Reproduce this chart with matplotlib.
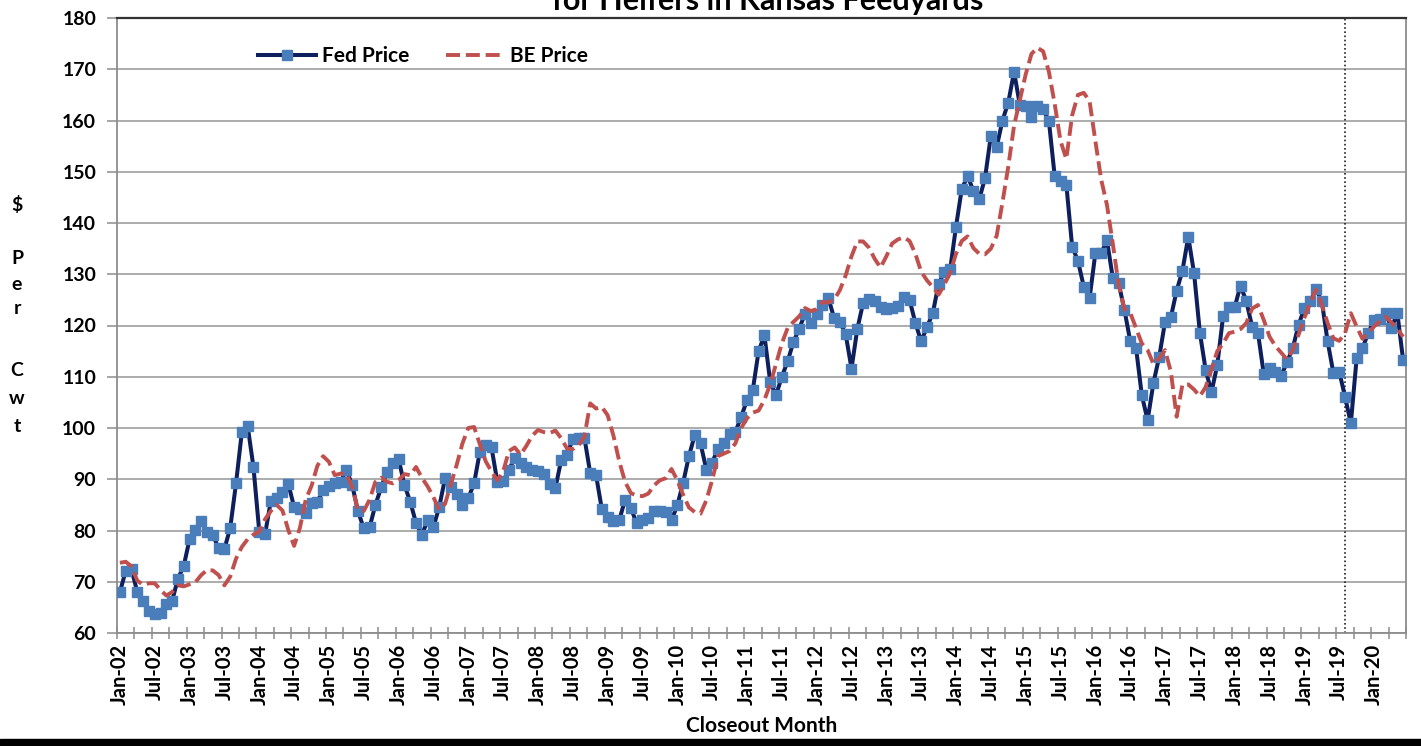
import matplotlib.pyplot as plt
from matplotlib.patches import Rectangle

# monthly closeout values, Jan-02 .. Jun-20 ($ per cwt)
fed_price = [
    68.0, 72.1, 72.4, 68.0, 66.3, 64.3, 63.7, 64.0, 65.6, 66.3, 70.6, 73.1,
    78.3, 80.1, 81.8, 79.8, 79.2, 76.5, 76.4, 80.5, 89.2, 99.2, 100.4, 92.4,
    79.8, 79.3, 85.8, 86.3, 87.6, 89.1, 84.6, 84.2, 83.5, 85.3, 85.6, 87.9,
    88.6, 89.2, 89.5, 91.8, 88.9, 83.8, 80.4, 80.6, 85.0, 88.4, 91.5, 93.1,
    93.9, 88.9, 85.6, 81.5, 79.1, 82.0, 80.7, 84.6, 90.2, 88.5, 87.2, 85.0,
    86.3, 89.2, 95.4, 96.7, 96.2, 89.5, 89.6, 91.8, 94.2, 93.2, 92.4, 91.8,
    91.6, 91.1, 89.1, 88.3, 93.7, 94.7, 97.9, 98.1, 98.1, 91.2, 90.8, 84.2,
    82.6, 81.8, 82.0, 86.0, 84.4, 81.4, 82.0, 82.5, 83.8, 83.8, 83.6, 82.0,
    84.9, 89.3, 94.5, 98.6, 97.0, 91.9, 93.2, 96.0, 97.0, 98.8, 99.2, 102.2,
    105.4, 107.4, 115.0, 118.1, 109.0, 106.4, 110.0, 113.0, 116.8, 119.4, 122.3, 120.4,
    122.3, 124.0, 125.4, 121.5, 120.7, 118.3, 111.6, 119.3, 124.4, 125.2, 124.8, 123.6,
    123.3, 123.5, 123.9, 125.6, 125.0, 120.5, 116.9, 119.7, 122.4, 128.1, 130.5, 131.0,
    139.3, 146.7, 149.1, 146.3, 144.6, 148.8, 157.0, 154.8, 160.0, 163.5, 169.5, 163.0,
    162.8, 160.7, 162.8, 162.2, 159.9, 149.1, 148.2, 147.5, 135.4, 132.6, 127.6, 125.3,
    134.1, 134.1, 136.6, 129.3, 128.3, 123.1, 117.0, 115.7, 106.4, 101.5, 108.8, 113.9,
    120.7, 121.6, 126.8, 130.7, 137.3, 130.2, 118.6, 111.3, 107.0, 112.3, 121.8, 123.6,
    123.6, 127.8, 124.7, 119.8, 118.6, 110.6, 111.7, 111.0, 110.2, 112.8, 115.6, 120.1,
    123.4, 124.7, 127.1, 124.7, 116.9, 110.7, 111.0, 106.1, 100.9, 113.6, 115.6, 118.5,
    121.1, 121.2, 122.4, 119.5, 122.5, 113.3,
]

be_price = [
    73.7, 73.9, 73.0, 70.2, 69.4, 69.7, 69.7, 68.4, 67.3, 68.0, 69.3, 69.1,
    69.5, 69.9, 71.3, 72.3, 72.2, 71.3, 69.3, 71.0, 74.5, 76.8, 78.3, 79.2,
    79.8, 82.2, 83.8, 85.0, 83.9, 80.1, 77.0, 80.5, 86.0, 88.7, 92.6, 94.5,
    93.4, 90.8, 91.1, 91.1, 88.5, 84.0, 83.8, 86.0, 89.5, 90.3, 89.5, 89.2,
    89.8, 91.0, 90.8, 92.4, 90.3, 88.6, 86.5, 84.0, 85.2, 89.0, 92.8, 97.0,
    100.0, 100.2, 96.8, 93.5, 91.5, 89.8, 91.5, 95.5, 96.2, 94.8, 96.5, 98.5,
    99.6, 99.2, 99.0, 99.5, 98.0, 96.0, 95.9, 96.6, 98.3, 104.8, 103.8, 104.1,
    102.5, 98.5, 93.5, 89.5, 87.3, 86.8, 86.7, 87.2, 88.8, 89.8, 90.2, 92.0,
    89.8, 87.0, 84.5, 83.6, 83.3, 85.9, 89.8, 94.5, 95.0, 95.5, 97.0, 100.0,
    101.9, 103.0, 103.4, 105.5, 108.5, 112.5, 116.5, 119.5, 120.7, 121.8, 123.4, 122.8,
    123.2, 124.6, 124.5, 125.0, 126.9, 129.8, 133.5, 136.4, 136.4, 135.2, 133.0, 131.3,
    133.5, 136.0, 136.8, 137.2, 136.5, 134.0, 130.5, 128.8, 127.5, 126.0, 128.0, 130.3,
    134.0, 136.5, 137.4, 135.1, 134.0, 133.9, 135.0, 137.5, 144.0, 151.0, 159.0, 164.0,
    169.0, 173.0, 174.2, 173.5, 169.5, 163.2, 156.0, 152.5, 161.0, 165.0, 165.4, 163.8,
    156.0, 148.5, 143.5, 136.0, 128.0, 123.2, 122.5, 119.5, 116.5, 115.2, 112.5, 113.6,
    115.2, 111.0, 102.2, 108.5, 108.5, 107.5, 106.2, 108.0, 111.5, 115.0, 116.5, 118.5,
    118.8, 119.3, 120.5, 123.3, 124.0, 121.1, 117.8, 116.0, 114.7, 113.4, 115.2, 118.2,
    121.5, 124.4, 127.0, 124.0, 120.5, 117.5, 117.0, 118.5, 122.4, 119.8, 117.4, 118.6,
    119.8, 120.8, 121.7, 120.6, 119.4, 117.8,
]

tick_labels = [
    "Jan-02", "Jul-02", "Jan-03", "Jul-03", "Jan-04", "Jul-04", "Jan-05", "Jul-05",
    "Jan-06", "Jul-06", "Jan-07", "Jul-07", "Jan-08", "Jul-08", "Jan-09", "Jul-09",
    "Jan-10", "Jul-10", "Jan-11", "Jul-11", "Jan-12", "Jul-12", "Jan-13", "Jul-13",
    "Jan-14", "Jul-14", "Jan-15", "Jul-15", "Jan-16", "Jul-16", "Jan-17", "Jul-17",
    "Jan-18", "Jul-18", "Jan-19", "Jul-19", "Jan-20",
]
y_ticks = [60, 70, 80, 90, 100, 110, 120, 130, 140, 150, 160, 170, 180]
marker_month = 211  # dotted line (Aug-19)

plt.rcParams['font.family'] = ['Lato', 'DejaVu Sans']
plt.rcParams['font.weight'] = 'bold'

W, H = 1421, 746
fig = plt.figure(figsize=(W / 100, H / 100), dpi=100)
ax = fig.add_axes([117 / W, 1 - 633 / H, (1406 - 117) / W, (633 - 18) / H])

n = len(fed_price)
x = list(range(n))

ax.plot(x, fed_price, color='#0d1f5c', lw=2.9, marker='s', ms=7.3,
        mfc='#4a7ebb', mec='#4a7ebb', label='Fed Price', zorder=3)
ax.plot(x, be_price, color='#c0504d', lw=2.8, dashes=(3.6, 1.5),
        label='BE Price', zorder=4)
ax.axvline(marker_month, color='#222222', lw=1.2, ls=(0, (1, 1.5)), zorder=2)

ax.set_xlim(-0.5, n - 0.5)
ax.set_ylim(60, 180)
ax.set_yticks(y_ticks)
ax.set_yticklabels([str(v) for v in y_ticks], fontsize=14, fontweight='bold')
ax.set_xticks(list(range(0, n, 6))[:len(tick_labels)])
ax.set_xticklabels(tick_labels, rotation=90, fontsize=14.5, fontweight='bold')
ax.set_xticks([k - 0.5 for k in range(0, n + 1, 3)], minor=True)
ax.tick_params(axis='x', which='major', length=0, pad=8)
ax.tick_params(axis='x', which='minor', direction='inout', length=9, width=1.1, color='#8c8c8c')
ax.tick_params(axis='y', direction='out', length=7, width=1.1, color='#8c8c8c', pad=8)

ax.grid(axis='y', color='#a6a6a6', lw=1.3)
ax.set_axisbelow(True)
for s in ['left', 'bottom', 'right']:
    ax.spines[s].set_color('#8c8c8c')
    ax.spines[s].set_linewidth(1.3)
ax.spines['top'].set_color('#333333')
ax.spines['top'].set_linewidth(1.6)

ax.set_xlabel('Closeout Month', fontsize=15, fontweight='bold', labelpad=8)

leg = ax.legend(loc='center left', bbox_to_anchor=((258 - 117) / 1289, (633 - 56) / 615),
                ncol=2, frameon=False, fontsize=15, handlelength=2.8, handletextpad=0.25,
                columnspacing=1.8, borderpad=0, borderaxespad=0)

fig.text(768 / W, 1 - 10 / H, 'for Heifers in Kansas Feedyards', ha='center',
         va='baseline', fontsize=22, fontweight='bold')

for ch, yy in [('$', 205), ('P', 259), ('e', 284), ('r', 308), ('C', 371), ('w', 398), ('t', 426)]:
    fig.text(17 / W, 1 - yy / H, ch, ha='center', va='center', fontsize=14, fontweight='bold')

fig.patches.append(Rectangle((0, 0), 1, 7 / H, transform=fig.transFigure,
                             color='black', zorder=10))

fig.savefig('out.png', dpi=100)
